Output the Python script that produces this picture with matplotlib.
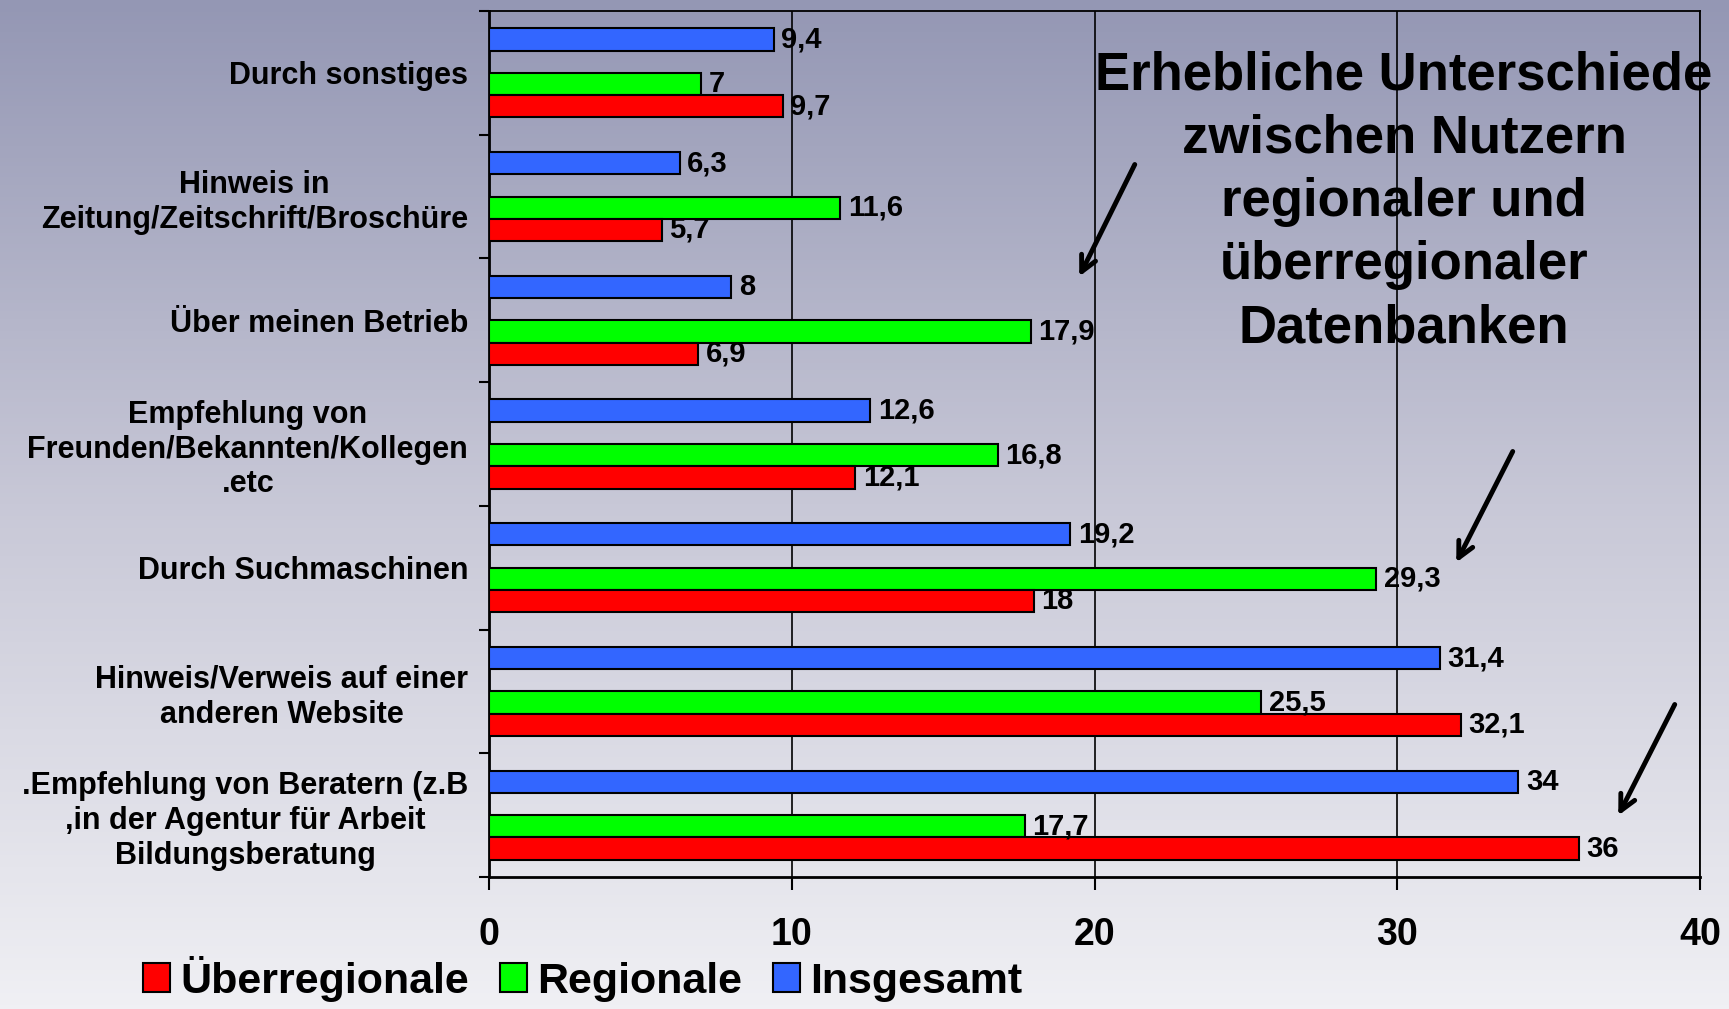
import matplotlib
matplotlib.use("Agg")
import matplotlib.pyplot as plt
import numpy as np
from matplotlib.colors import LinearSegmentedColormap
from matplotlib.patches import Patch

plt.rcParams['font.family'] = ['Liberation Sans', 'DejaVu Sans']
plt.rcParams['font.weight'] = 'bold'

categories = [
    "Durch sonstiges",
    "Hinweis in\nZeitung/Zeitschrift/Broschüre",
    "Über meinen Betrieb",
    "Empfehlung von\nFreunden/Bekannten/Kollegen\n.etc",
    "Durch Suchmaschinen",
    "Hinweis/Verweis auf einer\nanderen Website",
    ".Empfehlung von Beratern (z.B\n,in der Agentur für Arbeit\nBildungsberatung",
]
insgesamt = [9.4, 6.3, 8, 12.6, 19.2, 31.4, 34]
regionale = [7, 11.6, 17.9, 16.8, 29.3, 25.5, 17.7]
ueberregionale = [9.7, 5.7, 6.9, 12.1, 18, 32.1, 36]
series_names = ["Überregionale", "Regionale", "Insgesamt"]
xticks = [0, 10, 20, 30, 40]

col_red = "#ff0000"
col_green = "#00ff00"
col_blue = "#3366ff"

W, H = 1729, 1009
fig = plt.figure(figsize=(W / 100, H / 100), dpi=100)

# gradient background
bg = fig.add_axes([0, 0, 1, 1], zorder=-10)
cmap = LinearSegmentedColormap.from_list(
    "bg", [(148 / 255, 151 / 255, 180 / 255), (200 / 255, 200 / 255, 215 / 255), (240 / 255, 240 / 255, 244 / 255)])
grad = np.linspace(0, 1, 256).reshape(-1, 1)
bg.imshow(grad, cmap=cmap, aspect="auto", extent=[0, 1, 0, 1], origin="upper")
bg.axis("off")

ax = fig.add_axes([489 / W, 1 - 877 / H, (1700 - 489) / W, (877 - 11) / H])
ax.set_facecolor("none")

y = np.arange(len(categories))
h = 0.18
ax.barh(y - 1.5 * h, insgesamt, height=h, color=col_blue, edgecolor="black", linewidth=1.5, zorder=3)
ax.barh(y + 0.5 * h, regionale, height=h, color=col_green, edgecolor="black", linewidth=1.5, zorder=3)
ax.barh(y + 1.5 * h, ueberregionale, height=h, color=col_red, edgecolor="black", linewidth=1.5, zorder=3)

def fmt(v):
    return f"{v:g}".replace(".", ",")

for vals, off in [(insgesamt, -1.5), (regionale, 0.5), (ueberregionale, 1.5)]:
    for yi, v in zip(y, vals):
        ax.text(v + 0.25, yi + off * h, fmt(v), va="center", ha="left",
                fontsize=21, fontweight="bold", zorder=4)

ax.set_xlim(0, 40)
ax.set_ylim(len(categories) - 0.5, -0.5)
ax.set_xticks(xticks)
ax.set_xticklabels([str(t) for t in xticks], fontsize=27, fontweight="bold")
ax.tick_params(axis="x", length=9, width=1.5, pad=20, direction="out")
ax.set_yticks(y)
ax.set_yticklabels(categories, fontsize=22, fontweight="bold")
for lbl in ax.get_yticklabels():
    lbl.set_multialignment("center")
ax.tick_params(axis="y", which="major", length=0, pad=15)
ax.set_yticks(np.arange(-0.5, len(categories), 1), minor=True)
ax.tick_params(axis="y", which="minor", length=7, width=1.5, direction="out")

ax.grid(axis="x", color="black", linewidth=1.2, zorder=1)
for side in ["left", "bottom"]:
    ax.spines[side].set_linewidth(2)
for side in ["top", "right"]:
    ax.spines[side].set_linewidth(1.3)

fig.text(0.812, 0.800,
         "Erhebliche Unterschiede\nzwischen Nutzern\nregionaler und\nüberregionaler\nDatenbanken",
         ha="center", va="center", fontsize=38, fontweight="bold", linespacing=1.34)

arrows = [((1136, 162), (1078, 279)), ((1514, 449), (1455, 565)), ((1676, 702), (1617, 818))]
for (x0, y0), (x1, y1) in arrows:
    fig.add_artist(matplotlib.patches.FancyArrowPatch(
        (x0 / W, 1 - y0 / H), (x1 / W, 1 - y1 / H), transform=fig.transFigure,
        arrowstyle="->", mutation_scale=28, linewidth=3.5, color="black"))

handles = [Patch(facecolor=c, edgecolor="black", linewidth=1.5) for c in [col_red, col_green, col_blue]]
fig.legend(handles, series_names, loc="center", bbox_to_anchor=(0.337, 0.030), ncol=3,
           frameon=False, fontsize=31, handlelength=0.63, handleheight=0.63,
           handletextpad=0.25, columnspacing=0.7)

fig.savefig("out.png", dpi=100)
